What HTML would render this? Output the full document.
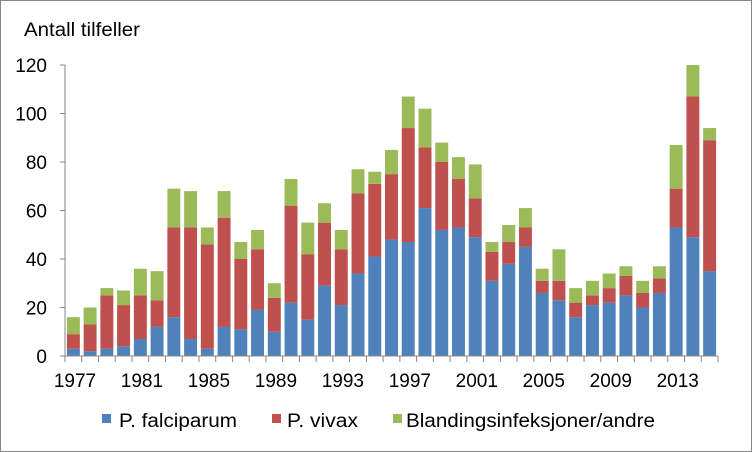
<!DOCTYPE html><html><head><style>body{margin:0;background:#fff}svg{display:block}text{font-family:"Liberation Sans",sans-serif;font-size:19px;fill:#000}</style></head><body>
<svg width="752" height="452" xmlns="http://www.w3.org/2000/svg">
<rect x="0.5" y="0.5" width="751" height="451" fill="#fff" stroke="#888"/>
<text x="24" y="36" textLength="116" lengthAdjust="spacingAndGlyphs">Antall tilfeller</text>
<g id="bars"></g>
<line x1="65" y1="65" x2="65" y2="356" stroke="#868686"/>
<line x1="65" y1="356" x2="718" y2="356" stroke="#868686"/>
<g id="ax"></g>
<rect x="102" y="414" width="9" height="9" fill="#4f81bd"/><text x="119" y="427" textLength="118" lengthAdjust="spacingAndGlyphs">P. falciparum</text>
<rect x="272" y="414" width="9" height="9" fill="#c0504d"/><text x="287" y="427" textLength="71" lengthAdjust="spacingAndGlyphs">P. vivax</text>
<rect x="393" y="414" width="9" height="9" fill="#9bbb59"/><text x="406" y="427" textLength="249" lengthAdjust="spacingAndGlyphs">Blandingsinfeksjoner/andre</text>
</svg>
<script>
var d=[[3,9,16],[2,13,20],[3,25,28],[4,21,27],[7,25,36],[12,23,35],[16,53,69],[7,53,68],[3,46,53],[12,57,68],[11,40,47],[19,44,52],[10,24,30],[22,62,73],[15,42,55],[29,55,63],[21,44,52],[34,67,77],[41,71,76],[48,75,85],[47,94,107],[61,86,102],[52,80,88],[53,73,82],[49,65,79],[31,43,47],[38,47,54],[45,53,61],[26,31,36],[23,31,44],[16,22,28],[21,25,31],[22,28,34],[25,33,37],[20,26,31],[26,32,37],[53,69,87],[49,107,120],[35,89,94]];
var ns="http://www.w3.org/2000/svg",g=document.getElementById("bars"),a=document.getElementById("ax");
var x0=65,cw=653/39,y0=356,k=291/120,cols=["#4f81bd","#c0504d","#9bbb59"];
function el(p,t,at,txt){var e=document.createElementNS(ns,t);for(var i in at)e.setAttribute(i,at[i]);if(txt!=null)e.textContent=txt;p.appendChild(e);}
d.forEach(function(v,i){var x=x0+i*cw+1.9,w=cw-3.8,prev=0;v.forEach(function(t,j){el(g,"rect",{x:x,y:y0-t*k,width:w,height:(t-prev)*k,fill:cols[j]});prev=t;});
el(a,"line",{x1:x0+i*cw,y1:356,x2:x0+i*cw,y2:362,stroke:"#868686"});
if(i%4==0)el(a,"text",{x:x0+i*cw+cw/2+1.6,y:387,"text-anchor":"middle"},1977+i);});
el(a,"line",{x1:718,y1:356,x2:718,y2:362,stroke:"#868686"});
for(var v=0;v<=120;v+=20){var y=y0-v*k;el(a,"line",{x1:60,y1:y,x2:65,y2:y,stroke:"#868686"});el(a,"text",{x:47,y:y+7,"text-anchor":"end"},v);}
</script></body></html>
